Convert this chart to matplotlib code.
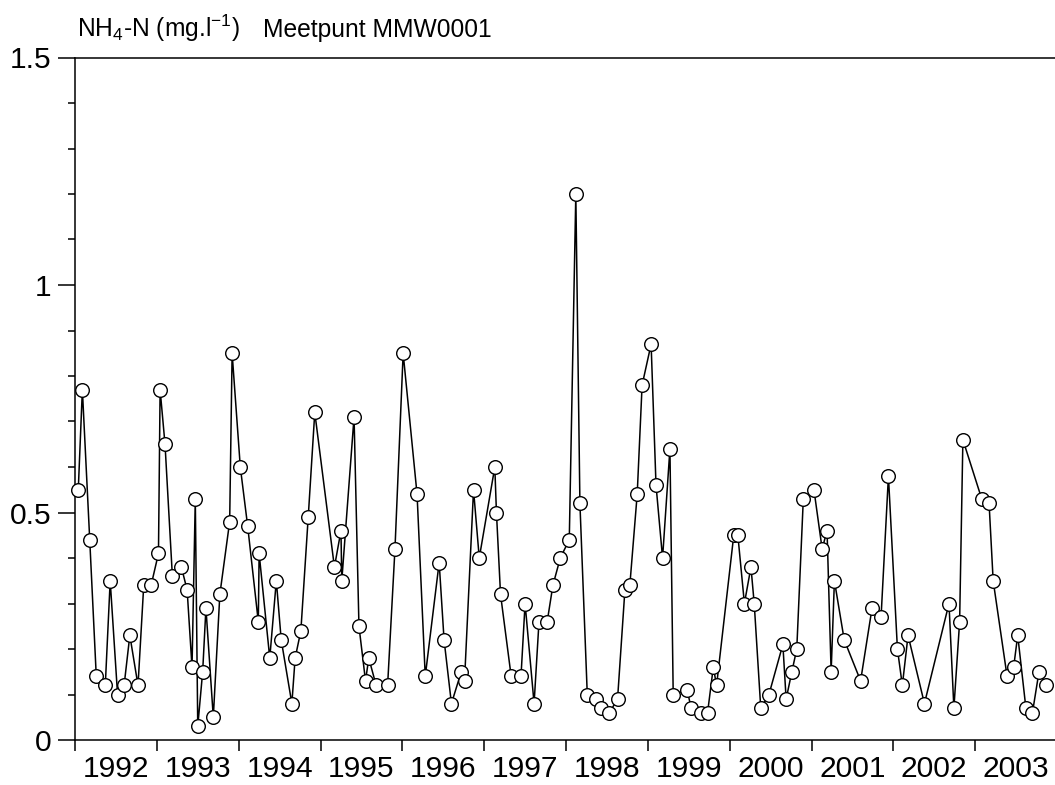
import matplotlib.pyplot as plt
import matplotlib.ticker as ticker
import numpy as np

plt.rcParams['font.family'] = ['Liberation Sans', 'DejaVu Sans']
plt.rcParams['mathtext.fontset'] = 'custom'
plt.rcParams['mathtext.rm'] = 'Liberation Sans'

# meetmomenten (decimaal jaar) en NH4-N concentratie (mg/l)
datum = [1992.04, 1992.09, 1992.18, 1992.26, 1992.37, 1992.43, 1992.52, 1992.60,
         1992.67, 1992.77, 1992.84, 1992.93, 1993.02, 1993.04, 1993.10, 1993.19,
         1993.30, 1993.37, 1993.43, 1993.47, 1993.50, 1993.56, 1993.60, 1993.69,
         1993.77, 1993.89, 1993.92, 1994.02, 1994.11, 1994.24, 1994.25, 1994.38,
         1994.46, 1994.52, 1994.65, 1994.69, 1994.76, 1994.85, 1994.93, 1995.17,
         1995.25, 1995.26, 1995.41, 1995.47, 1995.55, 1995.59, 1995.68, 1995.82,
         1995.91, 1996.01, 1996.18, 1996.28, 1996.45, 1996.51, 1996.60, 1996.72,
         1996.76, 1996.87, 1996.94, 1997.13, 1997.15, 1997.20, 1997.33, 1997.45,
         1997.50, 1997.61, 1997.67, 1997.77, 1997.84, 1997.93, 1998.04, 1998.12,
         1998.17, 1998.26, 1998.37, 1998.43, 1998.53, 1998.63, 1998.72, 1998.78,
         1998.87, 1998.93, 1999.04, 1999.10, 1999.18, 1999.27, 1999.31, 1999.48,
         1999.53, 1999.65, 1999.73, 1999.80, 1999.84, 2000.05, 2000.10, 2000.18,
         2000.26, 2000.30, 2000.38, 2000.48, 2000.65, 2000.69, 2000.76, 2000.82,
         2000.90, 2001.03, 2001.13, 2001.19, 2001.24, 2001.28, 2001.40, 2001.60,
         2001.74, 2001.85, 2001.94, 2002.05, 2002.11, 2002.18, 2002.38, 2002.68,
         2002.74, 2002.81, 2002.85, 2003.08, 2003.17, 2003.22, 2003.39, 2003.47,
         2003.52, 2003.62, 2003.70, 2003.78, 2003.87]
nh4 = [0.55, 0.77, 0.44, 0.14, 0.12, 0.35, 0.10, 0.12,
       0.23, 0.12, 0.34, 0.34, 0.41, 0.77, 0.65, 0.36,
       0.38, 0.33, 0.16, 0.53, 0.03, 0.15, 0.29, 0.05,
       0.32, 0.48, 0.85, 0.60, 0.47, 0.26, 0.41, 0.18,
       0.35, 0.22, 0.08, 0.18, 0.24, 0.49, 0.72, 0.38,
       0.46, 0.35, 0.71, 0.25, 0.13, 0.18, 0.12, 0.12,
       0.42, 0.85, 0.54, 0.14, 0.39, 0.22, 0.08, 0.15,
       0.13, 0.55, 0.40, 0.60, 0.50, 0.32, 0.14, 0.14,
       0.30, 0.08, 0.26, 0.26, 0.34, 0.40, 0.44, 1.20,
       0.52, 0.10, 0.09, 0.07, 0.06, 0.09, 0.33, 0.34,
       0.54, 0.78, 0.87, 0.56, 0.40, 0.64, 0.10, 0.11,
       0.07, 0.06, 0.06, 0.16, 0.12, 0.45, 0.45, 0.30,
       0.38, 0.30, 0.07, 0.10, 0.21, 0.09, 0.15, 0.20,
       0.53, 0.55, 0.42, 0.46, 0.15, 0.35, 0.22, 0.13,
       0.29, 0.27, 0.58, 0.20, 0.12, 0.23, 0.08, 0.30,
       0.07, 0.26, 0.66, 0.53, 0.52, 0.35, 0.14, 0.16,
       0.23, 0.07, 0.06, 0.15, 0.12]
jaren = list(range(1992, 2004))

fig = plt.figure(figsize=(10.55, 7.85), dpi=100)
ax = fig.add_axes([75/1055, 45/785, 982/1055, 682.5/785])

ax.plot(datum, nh4, color='black', linewidth=1.1, marker='o', markersize=9.8,
        markerfacecolor='white', markeredgecolor='black', markeredgewidth=1.0,
        clip_on=False, zorder=3)

ax.set_xlim(1992, 2004)
ax.set_ylim(0, 1.5)

# jaartallen midden tussen de jaarstreepjes
ax.xaxis.set_major_locator(ticker.FixedLocator(range(1992, 2005)))
ax.xaxis.set_major_formatter(ticker.NullFormatter())
ax.xaxis.set_minor_locator(ticker.FixedLocator([j + 0.5 for j in jaren]))
ax.xaxis.set_minor_formatter(ticker.FixedFormatter([str(j) for j in jaren]))
ax.tick_params(axis='x', which='major', direction='out', length=8, width=1.1)
ax.tick_params(axis='x', which='minor', length=0, pad=11, labelsize=21.6)

ax.yaxis.set_major_locator(ticker.MultipleLocator(0.5))
ax.yaxis.set_minor_locator(ticker.MultipleLocator(0.1))
ax.yaxis.set_major_formatter(ticker.FuncFormatter(lambda v, p: f'{v:g}'))
ax.tick_params(axis='y', which='major', direction='out', length=12, width=1.1,
               pad=5, labelsize=21.6)
ax.tick_params(axis='y', which='minor', direction='out', length=5, width=1.1)

for s in ax.spines.values():
    s.set_linewidth(1.1)

fig.text(77/1055, 1 - 37/785, r'NH$\mathregular{_4}$-N (mg.l$\mathregular{^{-1}}$)',
         fontsize=17.7, va='baseline', ha='left')
fig.text(263/1055, 1 - 37/785, 'Meetpunt MMW0001',
         fontsize=17.7, va='baseline', ha='left')

plt.savefig('out.png', dpi=100)
